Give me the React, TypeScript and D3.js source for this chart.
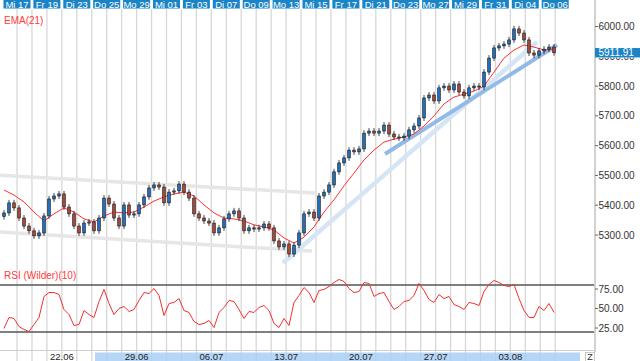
import React from 'react';
import * as d3 from 'd3';

// intraday closes, sampled ~3 bars per trading day (17.06 - 06.08)
const closes = [
  5374, 5408, 5391, 5357, 5330, 5314, 5297, 5307, 5364, 5421,
  5431, 5438, 5394, 5371, 5330, 5307, 5340, 5344, 5314, 5357,
  5424, 5404, 5357, 5330, 5401, 5367, 5371, 5401, 5428, 5458,
  5468, 5461, 5408, 5444, 5448, 5471, 5444, 5424, 5371, 5357,
  5347, 5340, 5307, 5324, 5354, 5371, 5381, 5357, 5314, 5324,
  5320, 5324, 5337, 5324, 5280, 5260, 5270, 5236, 5266, 5307,
  5371, 5377, 5357, 5431, 5444, 5468, 5512, 5542, 5559, 5585,
  5579, 5589, 5642, 5649, 5642, 5649, 5669, 5639, 5629, 5626,
  5632, 5653, 5666, 5693, 5760, 5770, 5750, 5794, 5800, 5787,
  5807, 5780, 5767, 5794, 5800, 5797, 5847, 5894, 5928, 5935,
  5941, 5955, 5992, 5978, 5955, 5911, 5904, 5918, 5924, 5931,
  5911.91,
];
const firstOpen = 5362;
const lastPrice = 5911.91;

// EMA(21), one value every 2 bars
const ema21 = [
  5451, 5434, 5411, 5377, 5347, 5371, 5391, 5377, 5354, 5344,
  5364, 5377, 5374, 5377, 5394, 5414, 5428, 5438, 5444, 5431,
  5401, 5374, 5357, 5354, 5347, 5334, 5327, 5317, 5290, 5273,
  5293, 5327, 5377, 5418, 5465, 5508, 5552, 5585, 5612, 5622,
  5629, 5639, 5666, 5700, 5740, 5763, 5773, 5783, 5800, 5847,
  5894, 5921, 5938, 5931, 5921, 5924,
];

// RSI (Wilder)(10), one value per bar
const rsi10 = [
  24.4, 38.5, 37.2, 26.9, 23.1, 20.5, 29.5, 38.5, 65.4, 70.5,
  70.5, 67.9, 48.7, 42.3, 28.2, 29.5, 47.4, 42.3, 38.5, 59,
  74.4, 56.4, 42.3, 50, 52.6, 46.2, 48.7, 60.3, 70.5, 69.2,
  75.6, 66.7, 41, 56.4, 57.7, 62.8, 47.4, 44.9, 33.3, 29.5,
  30.8, 34.6, 25.6, 44.9, 51.3, 60.3, 59, 48.7, 37.2, 46.2,
  44.9, 51.3, 53.8, 47.4, 30.8, 25.6, 37.2, 28.2, 57.7, 66.7,
  76.9, 70.5, 57.7, 73.1, 74.4, 78.2, 83.3, 87.2, 84.6, 75.6,
  70.5, 71.8, 83.3, 82.1, 65.4, 69.2, 70.5, 59, 48.7, 52.6,
  59, 60.3, 66.7, 82.1, 73.1, 61.5, 57.7, 67.9, 62.8, 65.4,
  55.1, 52.6, 48.7, 57.7, 56.4, 53.8, 71.8, 80.8, 85.9, 83.3,
  79.5, 78.2, 80.8, 62.8, 47.4, 38.5, 38.5, 52.6, 47.4, 56.4,
  44.9,
];

const priceTicks = [5300, 5400, 5500, 5600, 5700, 5800, 5900, 6000];
const rsiTicks = [25, 50, 75];
const rsiBands = [20, 80];
const tradingDays = 37;

const topLabels = [
  'Mi 17', 'Fr 19', 'Di 23', 'Do 25', 'Mo 29', 'Mi 01', 'Fr 03', 'Di 07', 'Do 09', 'Mo 13',
  'Mi 15', 'Fr 17', 'Di 21', 'Do 23', 'Mo 27', 'Mi 29', 'Fr 31', 'Di 04', 'Do 06',
];
const weekLabels = ['22.06', '29.06', '06.07', '13.07', '20.07', '27.07', '03.08'];

// trend lines in (bar index, price)
const channelLines = [
  [[-0.8, 5501], [62.2, 5441]],
  [[-0.8, 5310], [61.6, 5246]],
];
const supportLines = [
  [[55.8, 5206], [106.6, 5948]],
  [[76.2, 5572], [110.6, 5938]],
];

const FONT = 'Arial, "Liberation Sans", sans-serif';

export default function App() {
  const width = 640;
  const height = 361;
  const axisX = 595;

  const x = d3.scaleLinear().domain([0, closes.length - 1]).range([4, 554]);
  const day = d3.scaleLinear().domain([0, tradingDays - 1]).range([17, 555.2]);
  const y = d3.scaleLinear().domain([5300, 6000]).range([235, 26.5]);
  const yR = d3.scaleLinear().domain([25, 75]).range([328, 289]);
  const fmt = d3.format('.2f');

  const emaLine = d3
    .line<number>()
    .x((_, i) => x(i * 2))
    .y(d => y(d));

  const rsiLine = d3
    .line<number>()
    .x((_, i) => x(i))
    .y(d => yR(d));

  const candles = closes.map((c, i) => {
    const o = i === 0 ? firstOpen : closes[i - 1];
    const top = y(Math.max(o, c));
    const bot = y(Math.min(o, c));
    return { cx: x(i), top, h: Math.max(1, bot - top), up: c >= o };
  });

  const tagY = y(lastPrice);

  return (
    <svg width={width} height={height} style={{ display: 'block', fontFamily: FONT }}>
      <style>{'body{margin:0}'}</style>
      <defs>
        <clipPath id="belowTag">
          <rect x={axisX} y={tagY + 4.7} width={width - axisX} height={20} />
        </clipPath>
      </defs>
      <rect width={width} height={height} fill="#fff" />

      {/* day grid */}
      {d3.range(tradingDays).map(i => (
        <line key={i} x1={day(i)} x2={day(i)} y1={9} y2={361} stroke="#d7d7d7" strokeWidth={1.3} />
      ))}

      {/* top date labels */}
      {topLabels.map((t, n) => (
        <g key={t + n}>
          <rect x={day(n * 2) - 13.5} y={0} width={27} height={8.5} fill="#1b84c6" />
          <text x={day(n * 2)} y={7.6} fontSize={9.5} fill="#fff" textAnchor="middle">{t}</text>
        </g>
      ))}

      {/* channel + trend lines */}
      {channelLines.map((l, i) => (
        <line key={'c' + i} x1={x(l[0][0])} y1={y(l[0][1])} x2={x(l[1][0])} y2={y(l[1][1])}
          stroke="#e6e6e6" strokeWidth={3.5} />
      ))}
      <line x1={x(supportLines[0][0][0])} y1={y(supportLines[0][0][1])}
        x2={x(supportLines[0][1][0])} y2={y(supportLines[0][1][1])}
        stroke="#d6e5f6" strokeWidth={4.5} />
      <line x1={x(supportLines[1][0][0])} y1={y(supportLines[1][0][1])}
        x2={x(supportLines[1][1][0])} y2={y(supportLines[1][1][1])}
        stroke="#93b9e6" strokeWidth={4} />

      {/* EMA */}
      <path d={emaLine(ema21) || ''} fill="none" stroke="#ff3030" strokeWidth={1} />

      {/* candles */}
      {candles.map((c, i) => (
        <g key={i}>
          <line x1={c.cx} x2={c.cx} y1={c.top - 3} y2={c.top + c.h + 3} stroke="#1a1a1a" strokeWidth={0.8} />
          <rect x={c.cx - 1.3} y={c.top} width={2.6} height={c.h}
            fill={c.up ? '#1f6fbf' : '#a8463c'} stroke="#111" strokeWidth={0.6} />
        </g>
      ))}

      <text x={4} y={24} fontSize={10} fill="#ff3b3b">EMA(21)</text>

      {/* RSI panel */}
      {rsiBands.map(v => (
        <line key={v} x1={0} x2={axisX} y1={yR(v)} y2={yR(v)} stroke="#555" strokeWidth={1.5} />
      ))}
      <path d={rsiLine(rsi10) || ''} fill="none" stroke="#f23030" strokeWidth={1} />
      <text x={4} y={279} fontSize={10} fill="#ff3b3b">RSI (Wilder)(10)</text>

      {/* right axis */}
      <line x1={axisX} x2={axisX} y1={0} y2={352} stroke="#d2d2d2" strokeWidth={2} />
      {priceTicks.map(v => (
        <g key={v} clipPath={v === 5900 ? 'url(#belowTag)' : undefined}>
          <line x1={axisX} x2={axisX + 3} y1={y(v)} y2={y(v)} stroke="#666" />
          <text x={axisX + 3.5} y={y(v) + 3.5} fontSize={10} fill="#333">{fmt(v)}</text>
        </g>
      ))}
      <rect x={axisX} y={tagY - 4.7} width={width - axisX} height={9.4} fill="#1b84c6" />
      <text x={axisX + 3.5} y={tagY + 3.6} fontSize={10} fill="#fff">{fmt(lastPrice)}</text>
      {rsiTicks.map(v => (
        <g key={v}>
          <line x1={axisX} x2={axisX + 3} y1={yR(v)} y2={yR(v)} stroke="#666" />
          <text x={axisX + 3.5} y={yR(v) + 3.5} fontSize={10} fill="#333">{fmt(v)}</text>
        </g>
      ))}

      {/* bottom navigator */}
      <line x1={0} x2={axisX} y1={350.5} y2={350.5} stroke="#cfcfcf" />
      <rect x={95} y={352.5} width={485} height={9} fill="#a8cff4" fillOpacity={0.85} />
      {weekLabels.map((t, n) => (
        <text key={t} x={day(3 + n * 5)} y={359.5} fontSize={9.5} fill="#222" textAnchor="middle">{t}</text>
      ))}
      <rect x={585.5} y={352.5} width={9} height={9} fill="#fff" stroke="#c8c8c8" />
      <text x={590} y={360} fontSize={9} fill="#333" textAnchor="middle">Z</text>
    </svg>
  );
}
